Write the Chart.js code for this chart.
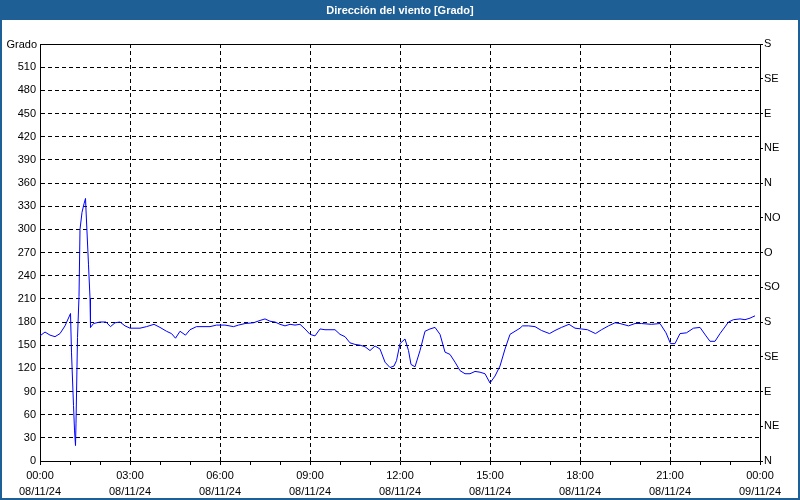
<!DOCTYPE html>
<html>
<head>
<meta charset="utf-8">
<script src="https://cdn.jsdelivr.net/npm/chart.js@4/dist/chart.umd.min.js"></script>
<style>
html,body{margin:0;padding:0;background:#ffffff;}
#wrap{width:800px;height:500px;position:relative;}
</style>
</head>
<body>
<div id="wrap"><canvas id="c" width="800" height="500"></canvas></div>
<script>
// Minutes since 00:00 08/11/24
const minutes = [0,10,20,30,40,50,61,63,67,69,71,72,75,78,80,84,88,91,92,97,100,101,107,120,132,141,150,160,170,180,200,213,228,240,253,263,271,280,291,300,313,340,353,370,387,397,410,427,440,450,460,470,480,490,500,510,520,530,540,550,560,570,580,590,600,610,620,630,640,650,660,670,680,690,700,708,713,720,730,737,742,750,760,770,780,790,800,810,820,830,840,850,860,870,880,890,900,910,920,930,940,950,960,965,977,990,1003,1019,1030,1043,1058,1070,1083,1095,1111,1123,1137,1150,1160,1177,1190,1203,1223,1240,1252,1261,1270,1280,1293,1307,1320,1332,1340,1350,1360,1377,1387,1400,1410,1420,1430];
// Wind direction [Grado]
const direction = [162,167,163,161,165,175,191,140,72,40,20,49,160,213,300,322,333,340,325,254,211,173,178,180,180,174,179,180,175,172,172,174,177,173,168,165,159,168,163,170,174,174,176,176,174,176,178,179,182,184,181,180,177,175,177,176,177,171,164,162,171,170,170,170,164,161,153,151,150,148,143,149,145,128,121,123,130,152,158,143,125,122,143,168,171,173,164,141,138,128,117,113,113,116,115,113,101,110,123,145,164,168,172,175,175,174,169,165,169,173,177,172,171,170,165,170,175,179,178,175,178,178,177,178,166,152,152,165,166,172,173,162,155,155,165,180,183,184,183,185,188];
const compassLabels = ['N','NE','E','SE','S','SO','O','NO','N','NE','E','SE','S'];
const timeLabels = ['00:00','03:00','06:00','09:00','12:00','15:00','18:00','21:00','00:00'];
const dateLabels = ['08/11/24','08/11/24','08/11/24','08/11/24','08/11/24','08/11/24','08/11/24','08/11/24','09/11/24'];
const titleText = 'Dirección del viento [Grado]';
const yAxisName = 'Grado';

const BLUE_BAR = '#1e5f95';
const FONT = "'Liberation Sans', Arial, sans-serif";

const framePlugin = {
  id: 'frame',
  beforeDraw(chart) {
    const c = chart.ctx;
    c.save();
    c.fillStyle = '#ffffff';
    c.fillRect(0, 0, chart.width, chart.height);
    c.fillStyle = BLUE_BAR;
    c.fillRect(0, 0, chart.width, 20);
    c.restore();
  },
  afterDraw(chart) {
    const c = chart.ctx;
    const a = chart.chartArea;
    c.save();
    c.strokeStyle = '#000000';
    c.lineWidth = 1;
    c.beginPath();
    c.moveTo(Math.round(a.left) + 0.5, Math.round(a.top) + 0.5);
    c.lineTo(Math.round(a.right) + 0.5, Math.round(a.top) + 0.5);
    c.stroke();
    c.strokeStyle = BLUE_BAR;
    c.lineWidth = 2;
    c.strokeRect(1, 1, chart.width - 2, chart.height - 2);
    c.fillStyle = '#000000';
    c.font = '11px ' + FONT;
    c.textAlign = 'right';
    c.textBaseline = 'middle';
    c.fillText(yAxisName, 37, 45);
    c.restore();
  }
};

const data = minutes.map((m, i) => ({x: m, y: direction[i]}));

new Chart(document.getElementById('c'), {
  type: 'line',
  data: {
    datasets: [{
      data: data,
      borderColor: '#0000ff',
      borderWidth: 1,
      pointRadius: 0,
      tension: 0,
      fill: false,
      yAxisID: 'y'
    }]
  },
  options: {
    responsive: false,
    animation: false,
    devicePixelRatio: 1,
    layout: {padding: {left: 0, right: 0, top: 0, bottom: 0}},
    plugins: {
      legend: {display: false},
      tooltip: {enabled: false},
      title: {
        display: true,
        text: titleText,
        color: '#ffffff',
        font: {family: FONT, size: 11, weight: 'bold', lineHeight: 1.2},
        padding: {top: 4, bottom: 26.8}
      }
    },
    scales: {
      x: {
        type: 'linear',
        min: 0,
        max: 1440,
        afterFit: s => { s.height = 39; },
        afterBuildTicks: s => {
          const t = [];
          for (let m = 0; m <= 1440; m += 60) t.push({value: m});
          s.ticks = t;
        },
        ticks: {
          autoSkip: false,
          maxRotation: 0,
          minRotation: 0,
          color: '#000000',
          padding: 3,
          font: {family: FONT, size: 11, lineHeight: '16px'},
          callback: v => (v % 180 === 0) ? [timeLabels[v / 180], dateLabels[v / 180]] : ''
        },
        grid: {
          color: ctx => {
            const v = ctx.tick ? ctx.tick.value : -1;
            return (v % 180 === 0 && v > 0 && v < 1440) ? '#000000' : 'rgba(0,0,0,0)';
          },
          tickColor: '#000000',
          tickLength: 4,
          drawTicks: true
        },
        border: {display: true, color: '#000000', width: 1, dash: [4, 3]}
      },
      y: {
        position: 'left',
        min: 0,
        max: 540,
        afterFit: s => { s.width = 40; },
        ticks: {
          stepSize: 30,
          color: '#000000',
          padding: 4,
          font: {family: FONT, size: 11},
          callback: v => (v === 540 ? '' : String(v))
        },
        grid: {
          color: ctx => {
            const v = ctx.tick ? ctx.tick.value : -1;
            return (v > 0 && v < 540) ? '#000000' : 'rgba(0,0,0,0)';
          },
          drawTicks: false
        },
        border: {display: true, color: '#000000', width: 1, dash: [4, 3]}
      },
      y2: {
        position: 'right',
        min: 0,
        max: 540,
        afterFit: s => { s.width = 40; },
        ticks: {
          stepSize: 45,
          color: '#000000',
          padding: 1,
          font: {family: FONT, size: 11},
          callback: v => compassLabels[Math.round(v / 45)]
        },
        grid: {
          drawOnChartArea: false,
          drawTicks: true,
          tickLength: 3,
          color: '#000000',
          tickColor: '#000000'
        },
        border: {display: true, color: '#000000', width: 1}
      }
    }
  },
  plugins: [framePlugin]
});
</script>
</body>
</html>
